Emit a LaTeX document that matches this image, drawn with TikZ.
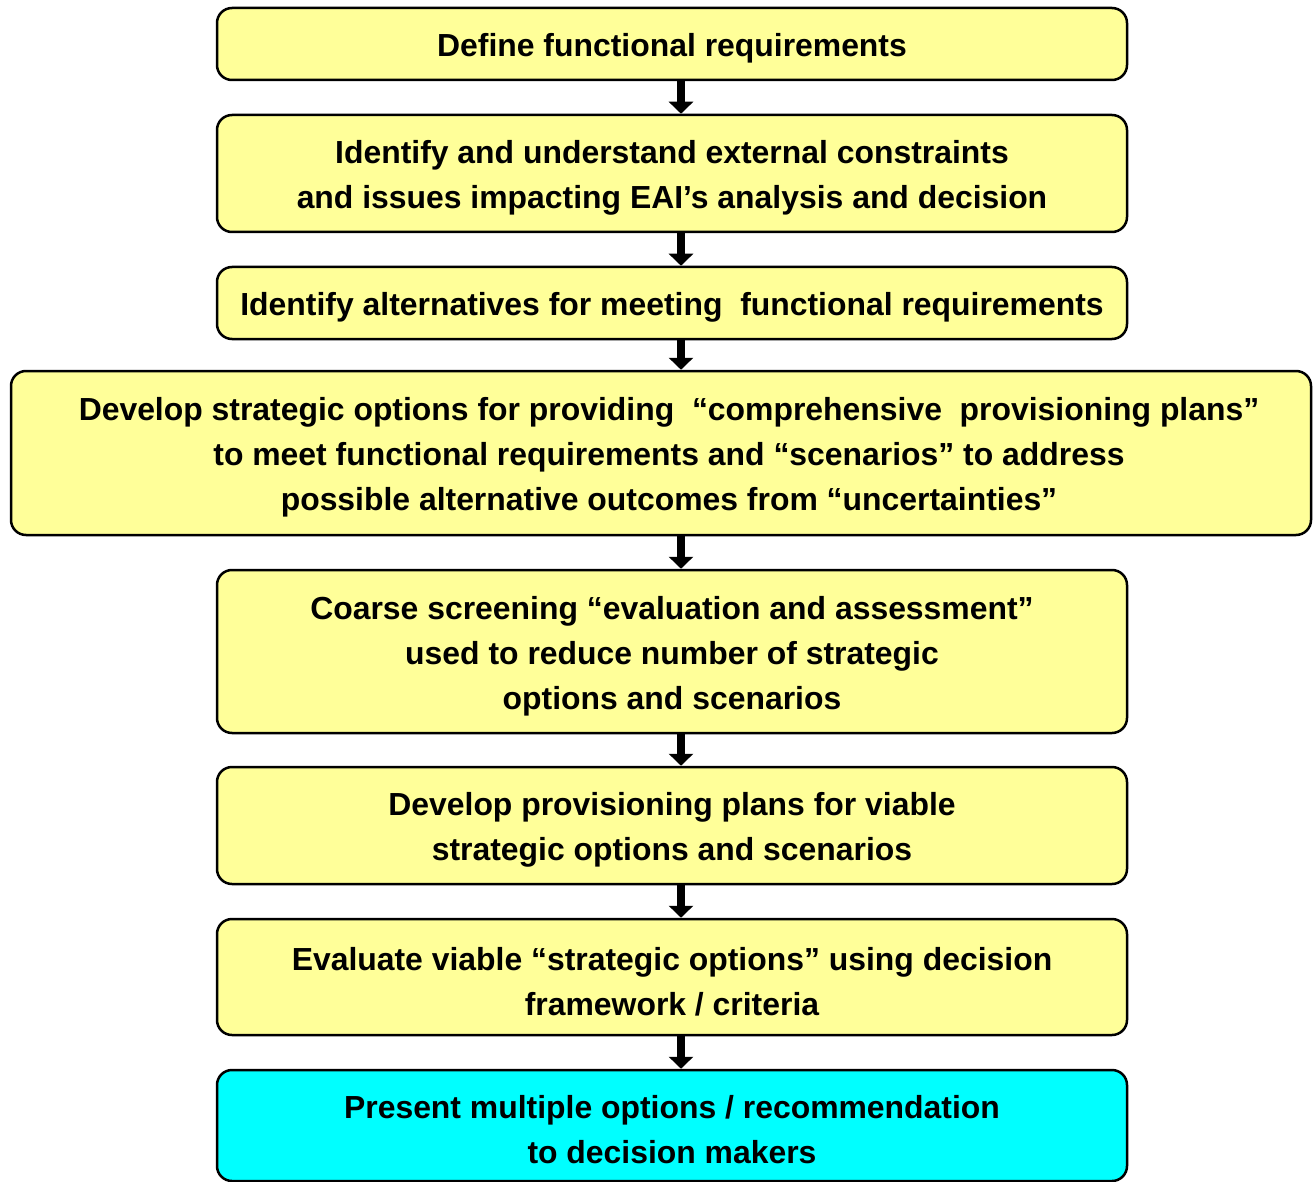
\documentclass[tikz,border=0pt]{standalone}
\usepackage{fontspec}
\setmainfont{Liberation Sans}
\usetikzlibrary{arrows.meta}
\definecolor{boxyellow}{HTML}{FFFF99}
\definecolor{boxcyan}{HTML}{00FFFF}
\begin{document}
\begin{tikzpicture}[x=1pt,y=-1pt,
  stage/.style={draw=black, line width=2.5pt, rounded corners=15pt, fill=boxyellow,
    inner sep=0pt, minimum width=910pt},
  stagetext/.style={align=center, font=\fontsize{31.9}{45}\selectfont\bfseries,
    inner sep=0pt, yshift=-4.5pt},
  flow/.style={line width=8pt, -{Triangle[width=24pt,length=12pt]}}]
\useasboundingbox (0,0) rectangle (1314,1182);
\coordinate (ax) at (681,0);
\node[stage, minimum height=72pt] (b1) at (672,44) {};
\node[stage, minimum height=117pt] (b2) at (672,173.5) {};
\node[stage, minimum height=72pt] (b3) at (672,303) {};
\node[stage, minimum width=1300pt, minimum height=164pt] (b4) at (661,453) {};
\node[stage, minimum height=163pt] (b5) at (672,651.5) {};
\node[stage, minimum height=117pt] (b6) at (672,825.5) {};
\node[stage, minimum height=116pt] (b7) at (672,977) {};
\node[stage, fill=boxcyan, minimum height=111pt] (b8) at (672,1125.5) {};
\node[stagetext] (t1) at (b1.center) {Define functional requirements};
\node[stagetext] (t2) at (b2.center) {Identify and understand external constraints\\and issues impacting EAI’s analysis and decision};
\node[stagetext] (t3) at (b3.center) {Identify alternatives for meeting\ \ functional requirements};
\node[stagetext, xshift=8pt] (t4) at (b4.center) {Develop strategic options for providing\ \ “comprehensive\ \ provisioning plans”\\to meet functional requirements and “scenarios” to address\\possible alternative outcomes from “uncertainties”};
\node[stagetext] (t5) at (b5.center) {Coarse screening “evaluation and assessment”\\used to reduce number of strategic\\options and scenarios};
\node[stagetext] (t6) at (b6.center) {Develop provisioning plans for viable\\strategic options and scenarios};
\node[stagetext] (t7) at (b7.center) {Evaluate viable “strategic options” using decision\\framework / criteria};
\node[stagetext] (t8) at (b8.center) {Present multiple options / recommendation\\to decision makers};
\draw[flow] (b1.south -| ax) -- (b2.north -| ax);
\draw[flow] (b2.south -| ax) -- (b3.north -| ax);
\draw[flow] (b3.south -| ax) -- (b4.north -| ax);
\draw[flow] (b4.south -| ax) -- (b5.north -| ax);
\draw[flow] (b5.south -| ax) -- (b6.north -| ax);
\draw[flow] (b6.south -| ax) -- (b7.north -| ax);
\draw[flow] (b7.south -| ax) -- (b8.north -| ax);
\end{tikzpicture}
\end{document}
